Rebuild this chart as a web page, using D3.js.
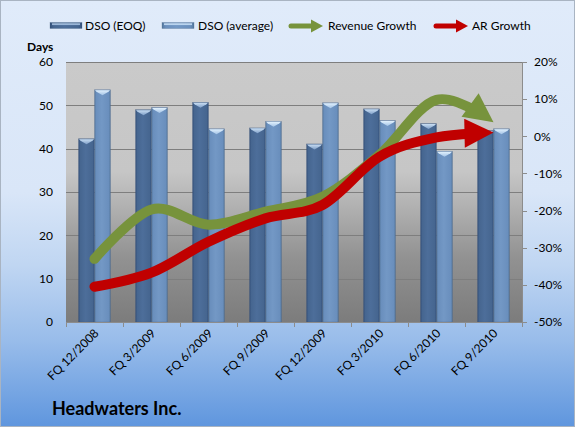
<!DOCTYPE html>
<html>
<head>
<meta charset="utf-8">
<script src="https://cdn.jsdelivr.net/npm/d3@7"></script>
<style>
  html, body { margin: 0; padding: 0; background: #ffffff; }
  svg { display: block; font-family: Lato, "Open Sans", "DejaVu Sans", sans-serif; }
</style>
</head>
<body>
<svg id="chart" width="575" height="427"></svg>
<script>
// ---- data ----
const categories = ["FQ 12/2008", "FQ 3/2009", "FQ 6/2009", "FQ 9/2009", "FQ 12/2009", "FQ 3/2010", "FQ 6/2010", "FQ 9/2010"];
const dsoEOQ     = [42.3, 49.0, 50.7, 44.8, 41.1, 49.2, 45.8, 44.2];
const dsoAverage = [53.6, 49.5, 44.6, 46.3, 50.6, 46.5, 39.4, 44.6];
const revenueGrowth = [-33.0, -19.7, -23.8, -20.3, -16.3, -5.0, 9.8, 3.8];
const arGrowth      = [-40.5, -36.7, -28.4, -22.1, -18.5, -5.5, -0.3, 1.0];
const leftTicks  = [0, 10, 20, 30, 40, 50, 60];
const rightTicks = [-50, -40, -30, -20, -10, 0, 10, 20];
const seriesNames = ["DSO (EOQ)", "DSO (average)", "Revenue Growth", "AR Growth"];
const title = "Headwaters Inc.";
const leftAxisTitle = "Days";

// ---- layout ----
const W = 575, H = 427;
const plot = { left: 66, right: 522, top: 62, bottom: 322 };
const svg = d3.select("#chart");
const defs = svg.append("defs");

// background gradients
const bg = defs.append("linearGradient").attr("id", "bgGrad").attr("x1", 0).attr("y1", 0).attr("x2", 0).attr("y2", 1);
[[0, "#e0ebfa"], [0.45, "#d9e6f8"], [0.62, "#c0d6f2"], [0.8, "#98bcea"], [1, "#5f96de"]]
  .forEach(([o, c]) => bg.append("stop").attr("offset", o).attr("stop-color", c));

const pg = defs.append("linearGradient").attr("id", "plotGrad").attr("x1", 0).attr("y1", 0).attr("x2", 0).attr("y2", 1);
[[0, "#cacaca"], [0.42, "#c6c6c6"], [0.55, "#b2b2b2"], [0.75, "#929292"], [1, "#7c7c7c"]]
  .forEach(([o, c]) => pg.append("stop").attr("offset", o).attr("stop-color", c));

function barGrad(id, edge, mid, hi) {
  const g = defs.append("linearGradient").attr("id", id).attr("x1", 0).attr("y1", 0).attr("x2", 1).attr("y2", 0);
  [[0, edge], [0.12, mid], [0.45, hi], [0.88, mid], [1, edge]]
    .forEach(([o, c]) => g.append("stop").attr("offset", o).attr("stop-color", c));
}
barGrad("darkBar", "#34507a", "#466690", "#4d6e9a");
barGrad("lightBar", "#56799f", "#6a8fbd", "#7398c5");

function capGrad(id, top, bot) {
  const g = defs.append("linearGradient").attr("id", id).attr("x1", 0).attr("y1", 0).attr("x2", 0).attr("y2", 1);
  g.append("stop").attr("offset", 0).attr("stop-color", top);
  g.append("stop").attr("offset", 1).attr("stop-color", bot);
}
capGrad("darkCap", "#c9def3", "#7f9fc8");
capGrad("lightCap", "#e2f1fd", "#a3c3e6");

svg.append("rect").attr("x", 0.5).attr("y", 0.5).attr("width", W - 1).attr("height", H - 1)
  .attr("fill", "url(#bgGrad)").attr("stroke", "#a9b4c2");

svg.append("rect").attr("x", plot.left).attr("y", plot.top)
  .attr("width", plot.right - plot.left).attr("height", plot.bottom - plot.top)
  .attr("fill", "url(#plotGrad)");

// ---- scales ----
const x = d3.scaleBand().domain(categories).range([plot.left, plot.right]).padding(0);
const xs = d3.scaleBand().domain(["eoq", "avg"]).range([12.5, x.bandwidth() - 12.5]).padding(0);
const yL = d3.scaleLinear().domain([0, 60]).range([plot.bottom, plot.top]);
const yR = d3.scaleLinear().domain([-50, 20]).range([plot.bottom, plot.top]);

// gridlines
svg.append("g").selectAll("line").data(leftTicks.filter(t => t > 0)).join("line")
  .attr("x1", plot.left).attr("x2", plot.right)
  .attr("y1", d => Math.round(yL(d)) + 0.5).attr("y2", d => Math.round(yL(d)) + 0.5)
  .attr("stroke", "#7e7e7e").attr("stroke-width", 1);

// ---- bars ----
const bars = [
  { key: "eoq", values: dsoEOQ, fill: "url(#darkBar)", cap: "url(#darkCap)" },
  { key: "avg", values: dsoAverage, fill: "url(#lightBar)", cap: "url(#lightCap)" }
];
bars.forEach(s => {
  const g = svg.append("g");
  const bw = xs.bandwidth();
  g.selectAll("rect").data(s.values).join("rect")
    .attr("x", (d, i) => x(categories[i]) + xs(s.key))
    .attr("y", d => yL(d))
    .attr("width", bw)
    .attr("height", d => yL(0) - yL(d))
    .attr("fill", s.fill)
    .attr("stroke", "#3a5478").attr("stroke-opacity", 0.35).attr("stroke-width", 0.6);
  g.selectAll("path").data(s.values).join("path")
    .attr("d", (d, i) => {
      const x0 = x(categories[i]) + xs(s.key), y0 = yL(d);
      return `M${x0 + 0.5},${y0 + 0.5} L${x0 + bw - 0.5},${y0 + 0.5} L${x0 + bw - 2},${y0 + 2} L${x0 + bw / 2},${y0 + 5.5} L${x0 + 2},${y0 + 2} Z`;
    })
    .attr("fill", s.cap);
});

// ---- axes ----
const axisColor = "#8c8c8c";
// bottom axis line and ticks
svg.append("line").attr("x1", plot.left).attr("x2", plot.right)
  .attr("y1", plot.bottom + 0.5).attr("y2", plot.bottom + 0.5).attr("stroke", axisColor);
const bounds = categories.map(c => x(c)).concat([plot.right]);
svg.append("g").selectAll("line").data(bounds).join("line")
  .attr("x1", d => Math.round(d) + 0.5).attr("x2", d => Math.round(d) + 0.5)
  .attr("y1", plot.bottom).attr("y2", plot.bottom + 5).attr("stroke", axisColor);
// right axis line and ticks
svg.append("line").attr("x1", plot.right + 0.5).attr("x2", plot.right + 0.5)
  .attr("y1", plot.top).attr("y2", plot.bottom + 0.5).attr("stroke", axisColor);
svg.append("g").selectAll("line").data(rightTicks).join("line")
  .attr("x1", plot.right).attr("x2", plot.right + 5)
  .attr("y1", d => Math.round(yR(d)) + 0.5).attr("y2", d => Math.round(yR(d)) + 0.5)
  .attr("stroke", axisColor);

// tick labels
const fs = 12;
svg.append("g").selectAll("text").data(leftTicks).join("text")
  .attr("x", 53).attr("y", d => yL(d)).attr("dy", "0.36em")
  .attr("text-anchor", "end").attr("font-size", fs).attr("fill", "#000").text(d => d);
svg.append("g").selectAll("text").data(rightTicks).join("text")
  .attr("x", 534).attr("y", d => yR(d)).attr("dy", "0.36em")
  .attr("text-anchor", "start").attr("font-size", fs).attr("fill", "#000")
  .text(d => (d < 0 ? "-" + Math.abs(d) : d) + "%");
svg.append("g").selectAll("text").data(categories).join("text")
  .attr("transform", d => `translate(${x(d) + x.bandwidth() / 2 + 5},${plot.bottom + 12}) rotate(-45)`)
  .attr("text-anchor", "end").attr("font-size", fs).attr("fill", "#000").text(d => d);

svg.append("text").attr("x", 27).attr("y", 51).attr("font-size", fs).attr("font-weight", "bold")
  .attr("fill", "#000").text(leftAxisTitle);
svg.append("text").attr("x", 52).attr("y", 415).attr("font-size", 18).attr("font-weight", "bold")
  .attr("fill", "#000").text(title);

// ---- lines with arrowheads ----
function marker(id, color) {
  defs.append("marker").attr("id", id)
    .attr("viewBox", "0 0 10 10").attr("refX", 10).attr("refY", 5)
    .attr("markerUnits", "userSpaceOnUse").attr("markerWidth", 30).attr("markerHeight", 29)
    .attr("orient", "auto")
    .append("path").attr("d", "M0,0 L10,5 L0,10 Z").attr("fill", color);
}
marker("arrowGreen", "#77933c");
marker("arrowRed", "#c00000");

const line = d3.line()
  .x((d, i) => x(categories[i]) + x.bandwidth() / 2)
  .y(d => yR(d))
  .curve(d3.curveCardinal.tension(0));

function drawSeries(values, color, markerId) {
  const p = svg.append("path").attr("d", line(values))
    .attr("fill", "none").attr("stroke", color).attr("stroke-width", 10)
    .attr("stroke-linecap", "round")
    .attr("marker-end", `url(#${markerId})`);
  const L = p.node().getTotalLength();
  p.attr("stroke-dasharray", `${L - 20} 1000`);
}
drawSeries(revenueGrowth, "#77933c", "arrowGreen");
drawSeries(arGrowth, "#c00000", "arrowRed");

// ---- legend ----
const lg = svg.append("g");
const legendY = 26;
function barSymbol(x0, fill, cap) {
  lg.append("rect").attr("x", x0).attr("y", legendY - 3.5).attr("width", 32).attr("height", 6)
    .attr("fill", fill).attr("stroke", "#3a5478").attr("stroke-opacity", 0.4).attr("stroke-width", 0.6);
  lg.append("rect").attr("x", x0 + 2).attr("y", legendY - 2.5).attr("width", 28).attr("height", 1.6)
    .attr("fill", cap);
}
function arrowSymbol(x0, color) {
  lg.append("line").attr("x1", x0).attr("x2", x0 + 22).attr("y1", legendY).attr("y2", legendY)
    .attr("stroke", color).attr("stroke-width", 5).attr("stroke-linecap", "round");
  lg.append("path").attr("d", `M${x0 + 20},${legendY - 6.5} L${x0 + 32},${legendY} L${x0 + 20},${legendY + 6.5} Z`)
    .attr("fill", color);
}
barSymbol(50, "url(#darkBar)", "url(#darkCap)");
barSymbol(162, "url(#lightBar)", "url(#lightCap)");
arrowSymbol(291, "#77933c");
arrowSymbol(436, "#c00000");
const legendText = [[85, seriesNames[0]], [198, seriesNames[1]], [328, seriesNames[2]], [472, seriesNames[3]]];
lg.selectAll("text.lt").data(legendText).join("text").attr("class", "lt")
  .attr("x", d => d[0]).attr("y", legendY).attr("dy", "0.36em")
  .attr("font-size", fs).attr("fill", "#000").text(d => d[1]);
</script>
</body>
</html>
